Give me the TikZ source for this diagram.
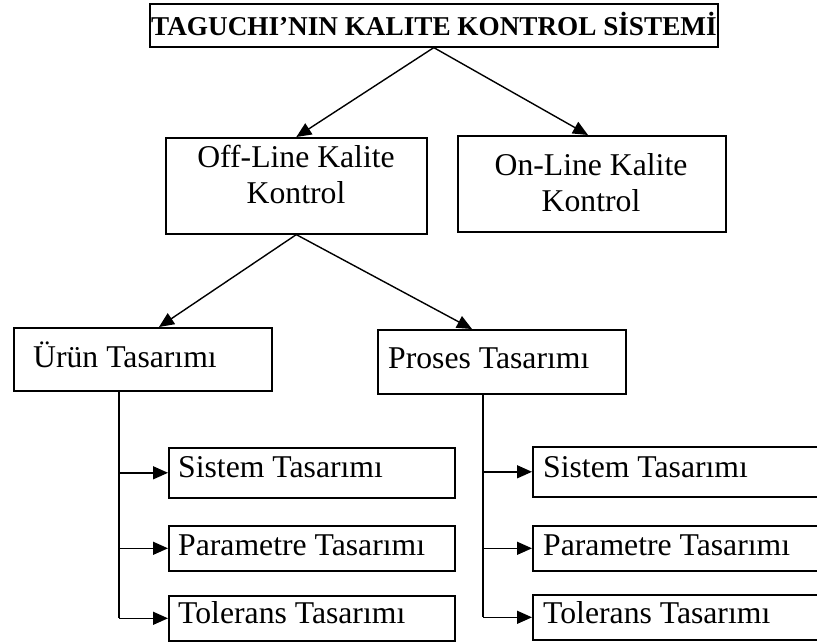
\documentclass[tikz,border=0pt]{standalone}
\usepackage{fontspec}
\setmainfont{Liberation Serif}
\usetikzlibrary{arrows.meta}
\begin{document}
\begin{tikzpicture}[x=1pt,y=-1pt,
  box/.style={draw, line width=1.6pt, inner sep=0pt, anchor=north west},
  txt/.style={inner sep=0pt, font=\fontsize{31.7}{38}\selectfont},
  ttl/.style={inner sep=0pt, font=\fontsize{27.2}{32}\selectfont\bfseries},
  arr/.style={line width=1.4pt, -{Triangle[length=15pt,width=13pt]}},
  stem/.style={line width=1.4pt}]
\useasboundingbox (0,0) rectangle (817,643);
\clip (0,0) rectangle (817,643);

% title
\node[box, minimum width=568pt, minimum height=43pt] (title) at (149,3) {};
\node[ttl, anchor=base west] (titletxt) at (151,35) {TAGUCHI’NIN KALITE KONTROL SİSTEMİ};

% off-line / on-line
\node[box, minimum width=261pt, minimum height=96pt] (off) at (165,137) {};
\node[txt, anchor=base] (offa) at (296,167) {Off-Line Kalite};
\node[txt, anchor=base] (offb) at (296,203) {Kontrol};

\node[box, minimum width=268pt, minimum height=96pt] (on) at (457,135) {};
\node[txt, anchor=base] (ona) at (591,175) {On-Line Kalite};
\node[txt, anchor=base] (onb) at (591,211) {Kontrol};

% product / process design
\node[box, minimum width=258pt, minimum height=63pt] (urun) at (13,327) {};
\node[txt, anchor=base west] (uruntxt) at (33,367) {Ürün Tasarımı};

\node[box, minimum width=248pt, minimum height=64pt] (proses) at (377,329) {};
\node[txt, anchor=base west] (prosestxt) at (388,368) {Proses Tasarımı};

% left column
\node[box, minimum width=286pt, minimum height=50pt] (lsys) at (168,447) {};
\node[txt, anchor=base west] (lsyst) at (178,477) {Sistem Tasarımı};
\node[box, minimum width=286pt, minimum height=45pt] (lpar) at (168,525) {};
\node[txt, anchor=base west] (lpart) at (178,555) {Parametre Tasarımı};
\node[box, minimum width=286pt, minimum height=45pt] (ltol) at (168,595) {};
\node[txt, anchor=base west] (ltolt) at (178,623) {Tolerans Tasarımı};

% right column (boxes run past the right edge)
\node[box, minimum width=320pt, minimum height=50pt] (rsys) at (532,446) {};
\node[txt, anchor=base west] (rsyst) at (543,477) {Sistem Tasarımı};
\node[box, minimum width=320pt, minimum height=45pt] (rpar) at (532,525) {};
\node[txt, anchor=base west] (rpart) at (543,555) {Parametre Tasarımı};
\node[box, minimum width=320pt, minimum height=45pt] (rtol) at (532,594) {};
\node[txt, anchor=base west] (rtolt) at (543,623) {Tolerans Tasarımı};

% connectors
\coordinate (urunTip) at (159,327);
\coordinate (prosesTip) at (472,329);
\draw[arr] (title.south) -- (off.north);
\draw[arr] (title.south) -- (on.north -| 588,0);
\draw[arr] (off.south) -- (urunTip);
\draw[arr] (off.south) -- (prosesTip);

\coordinate (lstem) at (119,390);
\coordinate (rstem) at (483,393);
\draw[stem] (lstem) -- (lstem |- ltol.west);
\draw[arr] (lstem |- lsys.west) -- (lsys.west);
\draw[arr] (lstem |- lpar.west) -- (lpar.west);
\draw[arr] (lstem |- ltol.west) -- (ltol.west);

\draw[stem] (rstem) -- (rstem |- rtol.west);
\draw[arr] (rstem |- rsys.west) -- (rsys.west);
\draw[arr] (rstem |- rpar.west) -- (rpar.west);
\draw[arr] (rstem |- rtol.west) -- (rtol.west);
\end{tikzpicture}
\end{document}
